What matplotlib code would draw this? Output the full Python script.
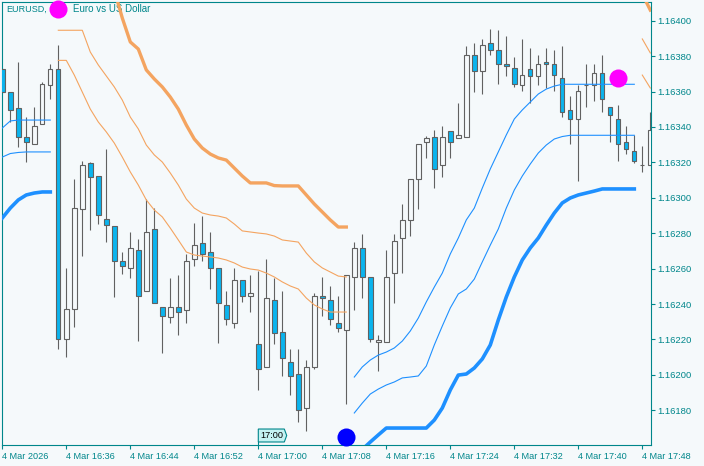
import numpy as np
import matplotlib.pyplot as plt
from matplotlib.patches import Polygon
from matplotlib.transforms import blended_transform_factory

# EURUSD M1 candles, one per minute from 16:28 to 17:49
opens = [1.163726, 1.163597, 1.163505, 1.163342, 1.163302, 1.163415, 1.163635, 1.163726,
         1.162201, 1.162370, 1.162935, 1.163195, 1.163121, 1.162882, 1.162843, 1.162641,
         1.162602, 1.162704, 1.162472, 1.162822, 1.162382, 1.162325, 1.162382, 1.162365,
         1.162653, 1.162743, 1.162692, 1.162602, 1.162393, 1.162291, 1.162534, 1.162444,
         1.162173, 1.162043, 1.162421, 1.162241, 1.162071, 1.162003, 1.161811, 1.162043,
         1.162444, 1.162421, 1.162291, 1.162252, 1.162551, 1.162715, 1.162551, 1.162184,
         1.162184, 1.162574, 1.162771, 1.162873, 1.163104, 1.163313, 1.163342, 1.163184,
         1.163375, 1.163336, 1.163342, 1.163805, 1.163714, 1.163872, 1.163833, 1.163754,
         1.163731, 1.163635, 1.163726, 1.163686, 1.163765, 1.163754, 1.163675, 1.163494,
         1.163443, 1.163635, 1.163635, 1.163703, 1.163511, 1.163443, 1.163313, 1.163263,
         1.163184, 1.163184]
highs = [1.163735, 1.163597, 1.163767, 1.163455, 1.163511, 1.163654, 1.163756, 1.163863,
         1.162604, 1.163106, 1.163208, 1.163200, 1.163125, 1.163276, 1.162843, 1.162692,
         1.162807, 1.162767, 1.162992, 1.162941, 1.162382, 1.162549, 1.162564, 1.162681,
         1.162856, 1.162896, 1.162807, 1.162602, 1.162472, 1.162602, 1.162534, 1.162562,
         1.162585, 1.162653, 1.162545, 1.162472, 1.162145, 1.162145, 1.162082, 1.162461,
         1.162551, 1.162500, 1.162444, 1.162562, 1.162749, 1.162794, 1.162551, 1.162224,
         1.162705, 1.162794, 1.162963, 1.163104, 1.163302, 1.163347, 1.163381, 1.163404,
         1.163375, 1.163534, 1.163855, 1.163872, 1.163895, 1.163951, 1.163946, 1.163912,
         1.163793, 1.163895, 1.163844, 1.163805, 1.163844, 1.163833, 1.163855, 1.163573,
         1.163635, 1.163754, 1.163754, 1.163805, 1.163511, 1.163522, 1.163404, 1.163353,
         1.163291, 1.163483]
lows = [1.163590, 1.163430, 1.163289, 1.163204, 1.163302, 1.163415, 1.163560, 1.162146,
        1.162103, 1.162272, 1.162673, 1.162820, 1.162854, 1.162752, 1.162442, 1.162571,
        1.162549, 1.162193, 1.162472, 1.162404, 1.162122, 1.162291, 1.162224, 1.162291,
        1.162613, 1.162641, 1.162483, 1.162182, 1.162280, 1.162263, 1.162413, 1.162354,
        1.161913, 1.162043, 1.162173, 1.161992, 1.161885, 1.161732, 1.161682, 1.162032,
        1.162331, 1.162280, 1.162241, 1.161834, 1.162365, 1.162433, 1.162184, 1.162020,
        1.162184, 1.162404, 1.162574, 1.162783, 1.162935, 1.163223, 1.163054, 1.163116,
        1.163223, 1.163336, 1.163342, 1.163596, 1.163584, 1.163805, 1.163641, 1.163686,
        1.163624, 1.163601, 1.163534, 1.163635, 1.163618, 1.163601, 1.163455, 1.163302,
        1.163093, 1.163511, 1.163545, 1.163483, 1.163313, 1.163206, 1.163246, 1.163195,
        1.163144, 1.163184]
closes = [1.163597, 1.163494, 1.163342, 1.163313, 1.163404, 1.163641, 1.163726, 1.162201,
          1.162370, 1.162941, 1.163184, 1.163116, 1.162901, 1.162845, 1.162641, 1.162613,
          1.162715, 1.162444, 1.162805, 1.162404, 1.162331, 1.162382, 1.162354, 1.162641,
          1.162732, 1.162681, 1.162602, 1.162404, 1.162314, 1.162534, 1.162444, 1.162461,
          1.162032, 1.162433, 1.162235, 1.162094, 1.161992, 1.161800, 1.162043, 1.162444,
          1.162433, 1.162314, 1.162263, 1.162562, 1.162715, 1.162551, 1.162201, 1.162195,
          1.162551, 1.162754, 1.162873, 1.163104, 1.163302, 1.163336, 1.163161, 1.163342,
          1.163313, 1.163353, 1.163805, 1.163714, 1.163861, 1.163833, 1.163754, 1.163743,
          1.163641, 1.163692, 1.163686, 1.163754, 1.163754, 1.163692, 1.163483, 1.163443,
          1.163601, 1.163637, 1.163703, 1.163556, 1.163466, 1.163302, 1.163274, 1.163206,
          1.163184, 1.163381]

x_labels = ['4 Mar 2026', '4 Mar 16:36', '4 Mar 16:44', '4 Mar 16:52', '4 Mar 17:00',
            '4 Mar 17:08', '4 Mar 17:16', '4 Mar 17:24', '4 Mar 17:32', '4 Mar 17:40',
            '4 Mar 17:48']
y_ticks = [1.16180, 1.16200, 1.16220, 1.16240, 1.16260, 1.16280,
           1.16300, 1.16320, 1.16340, 1.16360, 1.16380, 1.16400]

# upper bands (orange): first bar index, then values
up_outer_start = 14
up_outer = [1.164173, 1.164015, 1.163880, 1.163840, 1.163722, 1.163671, 1.163626, 1.163569,
            1.163501, 1.163411, 1.163332, 1.163281, 1.163247, 1.163225, 1.163213, 1.163168,
            1.163123, 1.163084, 1.163084, 1.163084, 1.163069, 1.163067, 1.163067, 1.163067,
            1.163016, 1.162965, 1.162920, 1.162875, 1.162835, 1.162835]
up_mid_start = 7
up_mid = [1.163946, 1.163946, 1.163946, 1.163946, 1.163823, 1.163750, 1.163688, 1.163626,
          1.163552, 1.163456, 1.163389, 1.163298, 1.163242, 1.163202, 1.163140, 1.163072,
          1.162993, 1.162942, 1.162914, 1.162903, 1.162897, 1.162886, 1.162852, 1.162813,
          1.162807, 1.162801, 1.162796, 1.162784, 1.162762, 1.162756, 1.162750, 1.162688,
          1.162638, 1.162604, 1.162581, 1.162558, 1.162553]
up_inner_start = 7
up_inner = [1.163776, 1.163776, 1.163693, 1.163597, 1.163501, 1.163428, 1.163372, 1.163309,
            1.163230, 1.163146, 1.163072, 1.162988, 1.162931, 1.162892, 1.162829, 1.162762,
            1.162694, 1.162677, 1.162671, 1.162666, 1.162660, 1.162649, 1.162632, 1.162609,
            1.162598, 1.162592, 1.162575, 1.162553, 1.162525, 1.162502, 1.162485, 1.162434,
            1.162395, 1.162372, 1.162355, 1.162355, 1.162355]
# new upper bands starting at the right edge
up2_start = 80
up2_outer = [1.164151, 1.164060]
up2_mid = [1.163897, 1.163818]
up2_inner = [1.163693, 1.163620]

# lower bands (blue)
lo1_start = 0
lo1_inner = [1.163394, 1.163434, 1.163439, 1.163439, 1.163439, 1.163439, 1.163439]
lo1_mid = [1.163230, 1.163250, 1.163256, 1.163259, 1.163259, 1.163259, 1.163259]
lo1_outer = [1.162886, 1.162942, 1.162988, 1.163016, 1.163027, 1.163033, 1.163033]

lo2_start = 44
lo2_inner = [1.161988, 1.162045, 1.162084, 1.162112, 1.162129, 1.162152, 1.162191, 1.162248,
             1.162321, 1.162412, 1.162496, 1.162575, 1.162683, 1.162773, 1.162875, 1.162942,
             1.163055, 1.163163, 1.163259, 1.163355, 1.163445, 1.163496, 1.163541, 1.163586,
             1.163614, 1.163631, 1.163641, 1.163641, 1.163641, 1.163641, 1.163641, 1.163641,
             1.163641, 1.163641, 1.163641, 1.163641]
lo2_mid = [1.161785, 1.161841, 1.161892, 1.161920, 1.161943, 1.161960, 1.161983, 1.161988,
           1.161994, 1.162050, 1.162169, 1.162276, 1.162378, 1.162457, 1.162485, 1.162541,
           1.162638, 1.162733, 1.162824, 1.162942, 1.163044, 1.163123, 1.163191, 1.163253,
           1.163298, 1.163332, 1.163346, 1.163353, 1.163353, 1.163353, 1.163353, 1.163353,
           1.163353, 1.163353, 1.163353, 1.163353]
lo2_outer_start = 45
lo2_outer = [1.161579, 1.161621, 1.161661, 1.161700, 1.161700, 1.161700, 1.161700, 1.161700,
             1.161700, 1.161745, 1.161813, 1.161915, 1.161999, 1.162005, 1.162039, 1.162090,
             1.162169, 1.162310, 1.162440, 1.162553, 1.162649, 1.162717, 1.162773, 1.162846,
             1.162914, 1.162971, 1.162999, 1.163016, 1.163027, 1.163038, 1.163050, 1.163050,
             1.163050, 1.163050, 1.163050]

# signal dots: bar index, price
sell_bars = [7, 77]
sell_prices = [1.164066, 1.163676]
buy_bars = [43]
buy_prices = [1.161652]

bg = '#F5F9FB'
teal = '#00868B'
edge = '#616161'
down_fill = '#0BB4EE'
orange = '#F4A460'
blue = '#1E90FF'

plt.rcParams['font.family'] = ['Liberation Sans', 'DejaVu Sans']

fig = plt.figure(figsize=(7.04, 4.66), dpi=100)
fig.patch.set_facecolor(bg)
ax = fig.add_axes([2.3 / 704, 21 / 466, 648.7 / 704, 442.7 / 466])
ax.set_facecolor(bg)

# Candles
o = np.array(opens)
h = np.array(highs)
l = np.array(lows)
c = np.array(closes)
idx = np.arange(len(o))
down = c < o
body_lo = np.minimum(o, c)
body_h = np.maximum(np.abs(c - o), 3e-7)
ax.vlines(idx, l, h, color=edge, lw=0.8, zorder=2)
ax.bar(idx, body_h, bottom=body_lo, width=0.55,
       color=np.where(down, down_fill, bg), edgecolor=edge, lw=0.8, zorder=3)


def band(start, vals, color, lw):
    ax.plot(np.arange(start, start + len(vals)), vals, color=color, lw=lw,
            solid_joinstyle='round', zorder=4)


# Upper bands
band(up_outer_start, up_outer, orange, 2.4)
band(up_mid_start, up_mid, orange, 0.8)
band(up_inner_start, up_inner, orange, 0.8)
band(up2_start, up2_outer, orange, 2.4)
band(up2_start, up2_mid, orange, 0.8)
band(up2_start, up2_inner, orange, 0.8)

# Lower bands
band(lo1_start, lo1_inner, blue, 0.8)
band(lo1_start, lo1_mid, blue, 0.8)
band(lo1_start, lo1_outer, blue, 2.6)
band(lo2_start, lo2_inner, blue, 0.8)
band(lo2_start, lo2_mid, blue, 0.8)
band(lo2_outer_start, lo2_outer, blue, 2.6)

# Signals
ax.plot(sell_bars, sell_prices, 'o', ms=13, color='#FF00FF', mec='none',
        clip_on=False, zorder=6)
ax.plot(buy_bars, buy_prices, 'o', ms=13, color='#0000FF', mec='none',
        clip_on=False, zorder=6)

# Title
ax.text(0.0057, 0.985, 'EURUSD,', transform=ax.transAxes, color=teal,
        fontsize=6.5, va='center', ha='left', zorder=1)
ax.text(0.109, 0.985, 'Euro vs US Dollar', transform=ax.transAxes, color=teal,
        fontsize=7, va='center', ha='left', zorder=1)

# Axes
ax.set_xlim(0, (651 - 2.3) / 8)
ax.set_ylim(1.1616042, 1.1641039)
for s in ax.spines.values():
    s.set_color(teal)
    s.set_linewidth(0.8)

ax.yaxis.tick_right()
ax.set_yticks(y_ticks)
ax.set_yticklabels(['%.5f' % v for v in y_ticks])
ax.tick_params(axis='y', direction='out', length=3, width=0.8, colors=teal,
               labelsize=6.8, pad=1.5)

ax.set_xticks(np.arange(0, 8 * len(x_labels), 8))
ax.set_xticklabels(x_labels, ha='left')
ax.tick_params(axis='x', direction='out', length=3, width=0.8, colors=teal,
               labelsize=6.6, pad=2)

# Time label box on the x axis
tr = blended_transform_factory(ax.transData, ax.transAxes)
box = Polygon([(32, 0.0068), (35.25, 0.0068), (35.55, 0.0215), (35.25, 0.0361), (32, 0.0361)],
              closed=True, transform=tr, facecolor='#C4F2F2', edgecolor=teal, lw=0.8,
              zorder=5, clip_on=False)
ax.add_patch(box)
ax.plot([32, 32], [0, 0.0068], transform=tr, color=teal, lw=0.8, zorder=5)
ax.text(33.65, 0.0215, '17:00', transform=tr, fontsize=6.6, color='black',
        ha='center', va='center', zorder=6)

fig.savefig('out.png', dpi=100, facecolor=bg)
